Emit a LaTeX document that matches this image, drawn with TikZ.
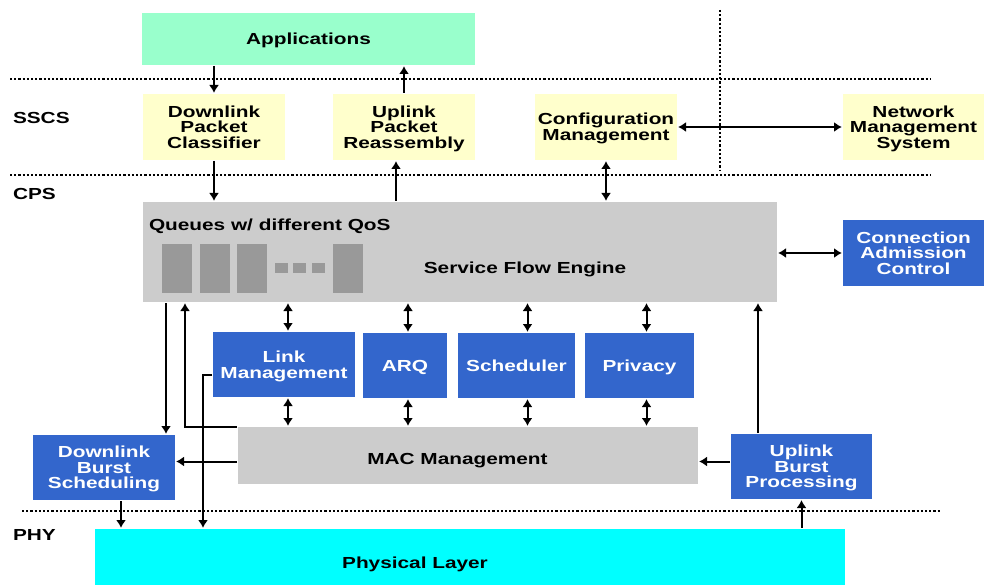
\documentclass[tikz,border=0pt]{standalone}
\usepackage{fontspec}
\setmainfont{Liberation Sans}[FakeStretch=1.3]
\usepackage{tikz}
\usetikzlibrary{calc,shapes,arrows.meta}

\definecolor{appgreen}{HTML}{99FFCC}
\definecolor{ssyellow}{HTML}{FFFFCC}
\definecolor{engray}{HTML}{CCCCCC}
\definecolor{qgray}{HTML}{999999}
\definecolor{macblue}{HTML}{3366CC}
\definecolor{phycyan}{HTML}{00FFFF}

\tikzset{
    >={Latex[length=8pt,width=10pt]},
    blk/.style={rectangle, inner sep=0pt, align=center, text depth=0pt,
        font=\fontsize{16}{15.6}\selectfont\bfseries},
    yblk/.style={blk, fill=ssyellow, minimum width=142, minimum height=66},
    bblk/.style={blk, fill=macblue, text=white, minimum height=65},
    gblk/.style={blk, fill=engray},
    lbl/.style={inner sep=0pt, font=\fontsize{16}{15.6}\selectfont\bfseries},
    layerline/.style={line width=2.4pt, dash pattern=on 2.2pt off 2pt}
}

\begin{document}
\begin{tikzpicture}[x=1pt, y=-1pt, line width=2pt]
    \useasboundingbox (0,0) rectangle (984,585);

    % layers
    \draw[layerline] (10,79) -- (930,79);
    \draw[layerline] (10,175) -- (930,175);
    \draw[layerline] (720,10) -- (720,170);
    \draw[layerline] (22,511) -- (940,511);
    \node[lbl, anchor=west] (sscs) at (12,118) {SSCS};
    \node[lbl, anchor=west] (cps) at (12,194) {CPS};
    \node[lbl, anchor=west] (phyl) at (12,535) {PHY};

    \node[blk, fill=appgreen, minimum width=333, minimum height=52] (app) at (308.5,39) {Applications};
    \node[yblk] (dpc) at (214,127) {Downlink\\Packet\\Classifier};
    \node[yblk] (upr) at (404,127) {Uplink\\Packet\\Reassembly};
    \node[yblk] (cfg) at (606,127) {Configuration\\Management};
    \node[yblk, minimum width=141] (nms) at (913.5,127) {Network\\Management\\System};

    \node[gblk, minimum width=634, minimum height=100] (sfe) at (460,252) {};
    \node[lbl, anchor=west] (qos) at (148,226) {Queues w/ different QoS};
    \node[lbl] (sfetxt) at (525,269) {Service Flow Engine};
    \foreach \qx in {162,200,237,333}
        \fill[qgray] (\qx,244) rectangle ++(30,49);
    \foreach \qx in {275,293,312}
        \fill[qgray] (\qx,263) rectangle ++(13,10);

    \node[bblk, minimum width=141, minimum height=66] (cac) at (913.5,253) {Connection\\Admission\\Control};

    \node[bblk, minimum width=142] (lnk) at (284,364.5) {Link\\Management};
    \node[bblk, minimum width=84] (arq) at (405,365.5) {ARQ};
    \node[bblk, minimum width=117] (sch) at (516.5,365.5) {Scheduler};
    \node[bblk, minimum width=109] (prv) at (639.5,365.5) {Privacy};

    \node[gblk, minimum width=460, minimum height=57] (mac) at (468,455.5) {};
    \node[lbl] (mactxt) at (457.5,461) {MAC Management};
    \node[bblk, minimum width=142] (dbs) at (104,467.5) {Downlink\\Burst\\Scheduling};
    \node[bblk, minimum width=141] (ubp) at (801.5,466.5) {Uplink\\Burst\\Processing};

    \node[blk, fill=phycyan, minimum width=750, minimum height=56] (phy) at (470,557) {};
    \node[lbl] (phytxt) at (415,564) {Physical Layer};

    % SSCS
    \draw[->] (app.south -| dpc.north) -- (dpc.north);
    \draw[->] (upr.north) -- (upr.north |- app.south);
    \draw[->] (dpc.south) -- (dpc.south |- sfe.north);
    \draw[->] ([xshift=-8pt]upr.south |- sfe.north) -- ([xshift=-8pt]upr.south);
    \draw[<->] (cfg.south) -- (cfg.south |- sfe.north);
    \draw[<->] (cfg.east) -- (nms.west);
    \draw[<->] (sfe.east |- cac.west) -- (cac.west);

    % CPS
    \foreach \blk/\dx in {lnk/4,arq/3,sch/11,prv/7} {
        \draw[<->] ([xshift=\dx pt]\blk.north |- sfe.south) -- ([xshift=\dx pt]\blk.north);
        \draw[<->] ([xshift=\dx pt]\blk.south) -- ([xshift=\dx pt]\blk.south |- mac.north);
    }
    \draw[->] ([xshift=24pt]sfe.south west) -- ([xshift=24pt]sfe.south west |- dbs.north);
    \draw[->] ([yshift=-1pt]mac.north west) -| ([xshift=43pt]sfe.south west);
    \draw[->] ([yshift=-10pt]lnk.west) -| ([xshift=109pt]phy.north west);
    \draw[->] ([yshift=-6pt]mac.west) coordinate (mw) -- (dbs.east |- mw);
    \draw[->] (ubp.west |- mw) -- (mac.east |- mw);
    \draw[->] ([xshift=28pt]ubp.north west) -- ([xshift=28pt]ubp.north west |- sfe.south);

    % PHY
    \draw[->] ([xshift=17pt]dbs.south) -- ([xshift=17pt]dbs.south |- phy.north);
    \draw[->] (ubp.south |- phy.north) -- (ubp.south);
\end{tikzpicture}
\end{document}
